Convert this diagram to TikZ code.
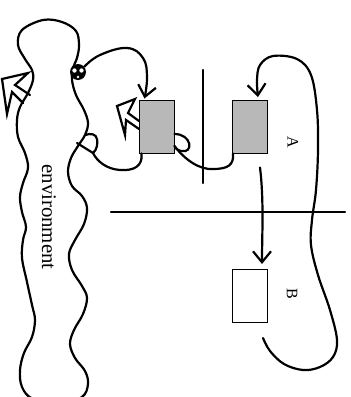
\documentclass[tikz,border=0pt]{standalone}
\usepackage{fontspec}
\setmainfont{Liberation Serif}
\usetikzlibrary{arrows.meta,calc}
\begin{document}
\begin{tikzpicture}[x=0.5pt,y=-0.5pt,
  ln/.style={line width=1.1pt, line cap=round, line join=round},
  arr/.style={ln,-{Straight Barb[length=5.5pt,width=9pt]}},
  gbox/.style={draw, line width=0.5pt, fill=black!28, minimum width=17.5pt, minimum height=26.5pt, inner sep=0pt},
  wbox/.style={gbox, fill=white},
  lab/.style={font=\fontsize{8}{9}\selectfont, rotate=-90, inner sep=0pt},
  hollow/.style={line width=1.1pt, line join=miter, line cap=round}]
\useasboundingbox (0,0) rectangle (351,397);
\fill[white] (0,0) rectangle (351,397);
% environment blob
\begin{scope}
\clip (0,0) rectangle (351,397);
\draw[ln] plot[smooth cycle, tension=0.6] coordinates {
(43,20) (62,22) (76,31) (79,45) (77,58) (73,68) (72,80) (76,95) (84,110) (88,123)
(85,135) (78,146) (71,158) (68,172) (72,186) (82,196) (87,208) (84,224) (75,240)
(69,254) (72,270) (82,286) (87,298) (83,314) (74,330) (70,344) (75,358) (85,371)
(88,384) (82,397) (60,404) (33,399) (22,387) (20,370) (24,353) (32,337) (35,320)
(32,305) (27,282) (22,258) (23,240) (26,227) (22,212) (20,197) (23,183) (28,168)
(25,153) (18,137) (17,120) (20,107) (28,93) (33,80) (32,70) (25,59) (18,45) (22,30)};
\end{scope}
\node[font=\fontsize{10.4}{12}\selectfont, rotate=-90, inner sep=0pt] (env) at (49,217) {environment};

% boxes
\node[gbox] (box1) at (156.5,126.5) {};
\node[gbox] (box2) at (250,126.5) {};
\node[wbox] (boxB) at (250,296) {};
\node[lab] (labA) at (293,142) {A};
\node[lab] (labB) at (292,294) {B};

% separating lines
\coordinate (v1) at (203,70);
\coordinate (v2) at (203,183);
\coordinate (h1) at (111,212);
\coordinate (h2) at (345,212);
\draw[ln] (v1) -- (v2);
\draw[ln] (h1) -- (h2);

% ball
\node[circle, fill=black, minimum size=8pt, inner sep=0pt] (ball) at (78,72) {};
\fill[white] (74.5,70.5) circle (1.1pt);
\fill[white] (81.5,70.5) circle (1.1pt);
\fill[white] (78,77) circle (0.7pt);

% ball -> box1
\coordinate (t1) at ($(box1.north west)+(6,-1)$);
\draw[arr] plot[smooth, tension=0.7] coordinates {(ball.40) (100,55) (127,48) (143,58) (147,77) (t1)};

% box1 -> tab
\coordinate (b1) at ($(box1.south west)+(3,0)$);
\coordinate (tabA) at (93,153);
\coordinate (tabB) at (85,135);
\coordinate (tabC) at (77,143);
\draw[ln] (b1) .. controls (143,166) and (134,171) .. (120,170) .. controls (106,169) and (97,161) .. (tabA);
\draw[ln] (tabA) .. controls (97,150) and (98,143) .. (97,139) .. controls (96,134) and (91,133) .. (tabB);
\draw[ln] (tabC) -- (tabA);

% box2 -> box1 with loop
\coordinate (l1) at ($(box1.east)+(0,7.5)$);
\coordinate (l2) at ($(box1.east)+(0,19.5)$);
\coordinate (s1) at ($(box2.south west)+(1,0)$);
\draw[ln] (l1) .. controls (192,134) and (194,154) .. (181,151) .. controls (177,150) and (175,148) .. (l2);
\draw[ln] (l2) .. controls (185,160) and (200,170) .. (213,169) .. controls (228,169) and (234,165) .. (s1);

% box2 -> box B
\coordinate (s2) at ($(box2.south)+(10,14)$);
\coordinate (eB) at ($(boxB.north)+(12,-5)$);
\draw[arr] (s2) .. controls (264,200) and (262,235) .. (eB);

% big loop -> box2
\coordinate (s3) at ($(boxB.south)+(13,15)$);
\coordinate (e2) at ($(box2.north)+(8,-2.5)$);
\draw[arr] plot[smooth, tension=0.6] coordinates {(s3) (270,351) (284,364) (303,370) (320,367) (333,357) (337,340) (330,310) (318,275) (311,245) (312,220) (316,190) (318,150) (317,110) (311,75) (297,59) (273,56) (260,65) (257,80) (e2)};

% hollow arrows
\draw[hollow] (30,95) -- (15,85) -- (28,73) -- (2,79) -- (7,114) -- (12,92) -- (23,103);
\draw[hollow] (139,121) -- (128,113) -- (135,99) -- (117,106) -- (125,135) -- (126,120) -- (139,129);
\end{tikzpicture}
\end{document}
